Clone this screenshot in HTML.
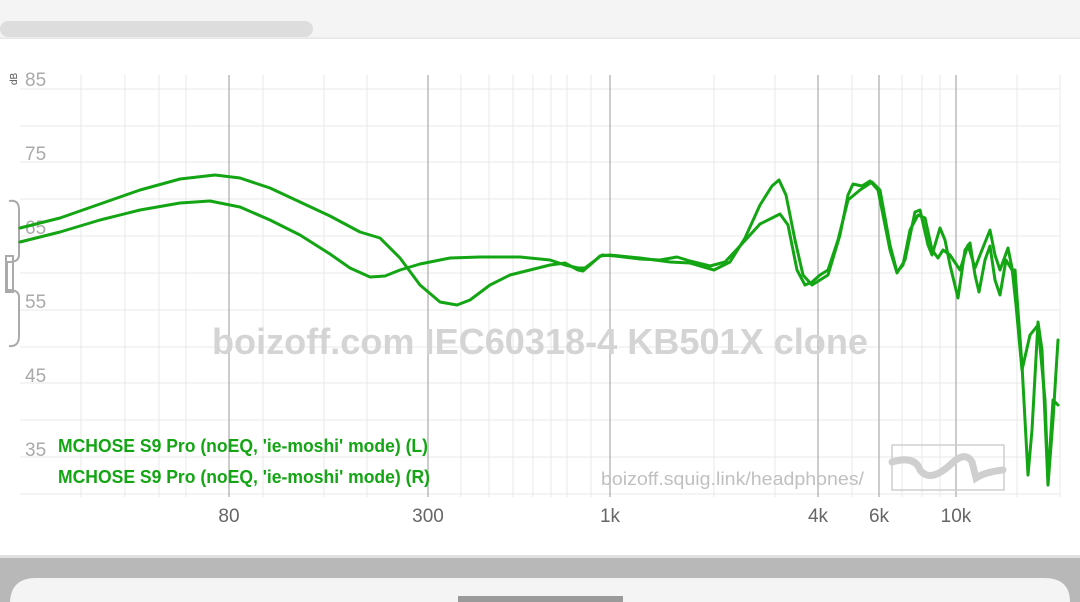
<!DOCTYPE html>
<html><head><meta charset="utf-8"><style>
html,body{margin:0;padding:0;width:1080px;height:602px;overflow:hidden;background:#fff;font-family:"Liberation Sans",sans-serif}
svg{display:block}
</style></head><body>
<svg width="1080" height="602" viewBox="0 0 1080 602" xmlns="http://www.w3.org/2000/svg">
<rect x="0" y="0" width="1080" height="38" fill="#f4f4f4"/>
<rect x="0" y="21" width="313" height="16" rx="8" fill="#dddddd"/>
<rect x="0" y="37.5" width="1080" height="1.5" fill="#e6e6e6"/>
<g stroke="#f0f0f0" stroke-width="1.5">
<line x1="20" y1="89" x2="1060" y2="89"/><line x1="20" y1="126" x2="1060" y2="126"/>
<line x1="20" y1="162" x2="1060" y2="162"/><line x1="20" y1="199" x2="1060" y2="199"/>
<line x1="20" y1="236" x2="1060" y2="236"/><line x1="20" y1="273" x2="1060" y2="273"/>
<line x1="20" y1="310" x2="1060" y2="310"/><line x1="20" y1="347" x2="1060" y2="347"/>
<line x1="20" y1="383" x2="1060" y2="383"/><line x1="20" y1="420" x2="1060" y2="420"/>
<line x1="20" y1="457" x2="1060" y2="457"/><line x1="20" y1="494" x2="1060" y2="494"/>
</g>
<g stroke="#e8e8e8" stroke-width="1">
<line x1="81" y1="75" x2="81" y2="497"/><line x1="125" y1="75" x2="125" y2="497"/>
<line x1="159" y1="75" x2="159" y2="497"/><line x1="186" y1="75" x2="186" y2="497"/>
<line x1="263" y1="75" x2="263" y2="497"/><line x1="324" y1="75" x2="324" y2="497"/>
<line x1="367" y1="75" x2="367" y2="497"/><line x1="461" y1="75" x2="461" y2="497"/>
<line x1="489" y1="75" x2="489" y2="497"/><line x1="513" y1="75" x2="513" y2="497"/>
<line x1="533" y1="75" x2="533" y2="497"/><line x1="551" y1="75" x2="551" y2="497"/>
<line x1="567" y1="75" x2="567" y2="497"/><line x1="591" y1="75" x2="591" y2="497"/>
<line x1="714" y1="75" x2="714" y2="497"/><line x1="775" y1="75" x2="775" y2="497"/>
<line x1="852" y1="75" x2="852" y2="497"/><line x1="902" y1="75" x2="902" y2="497"/>
<line x1="922" y1="75" x2="922" y2="497"/><line x1="940" y1="75" x2="940" y2="497"/>
<line x1="1017" y1="75" x2="1017" y2="497"/><line x1="1060" y1="75" x2="1060" y2="497"/>
</g>
<g stroke="#aaaaaa" stroke-width="1.2">
<line x1="229" y1="75" x2="229" y2="497"/><line x1="428" y1="75" x2="428" y2="497"/>
<line x1="610" y1="75" x2="610" y2="497"/><line x1="818" y1="75" x2="818" y2="497"/>
<line x1="879" y1="75" x2="879" y2="497"/><line x1="956" y1="75" x2="956" y2="497"/>
</g>
<g fill="#aaaaaa" font-size="19">
<text x="25" y="86">85</text><text x="25" y="160">75</text><text x="25" y="234">65</text>
<text x="25" y="308">55</text><text x="25" y="382">45</text><text x="25" y="456">35</text>
</g>
<text x="17" y="85" font-size="10" fill="#555" transform="rotate(-90 17 85)">dB</text>
<path d="M9,201 Q19,199 19,210 L19,255 Q19,262 9,262 L7,262 L7,290 L9,290 Q19,290 19,297 L19,336 Q19,347 9,346" fill="none" stroke="#aaa" stroke-width="2"/>
<rect x="6" y="256" width="7" height="36" fill="none" stroke="#aaa" stroke-width="2"/>
<text x="212" y="354" font-size="36" font-weight="bold" fill="#d4d4d4" textLength="656" lengthAdjust="spacingAndGlyphs">boizoff.com IEC60318-4 KB501X clone</text>
<g fill="#666" font-size="19" text-anchor="middle">
<text x="229" y="522">80</text><text x="428" y="522">300</text><text x="610" y="522">1k</text>
<text x="818" y="522">4k</text><text x="879" y="522">6k</text><text x="956" y="522">10k</text>
</g>
<text x="601" y="485" font-size="18" fill="#c0c0c0" textLength="263" lengthAdjust="spacingAndGlyphs">boizoff.squig.link/headphones/</text>
<rect x="892" y="445" width="112" height="45" fill="none" stroke="#cfcfcf" stroke-width="1.5"/>
<path d="M892,462 Q915,455 920,470 Q930,483 950,465 Q965,450 972,462 L976,478 Q985,472 1003,470" fill="none" stroke="#cfcfcf" stroke-width="7" stroke-linecap="round"/>
<g font-size="18" font-weight="bold" fill="#14a514">
<text x="58" y="452" textLength="370" lengthAdjust="spacingAndGlyphs">MCHOSE S9 Pro (noEQ, 'ie-moshi' mode) (L)</text>
<text x="58" y="483" textLength="372" lengthAdjust="spacingAndGlyphs">MCHOSE S9 Pro (noEQ, 'ie-moshi' mode) (R)</text>
</g>
<g fill="none" stroke="#14a514" stroke-width="3" stroke-linejoin="round" stroke-linecap="round">
<polyline points="20,228 60,218 100,204 140,190 180,179 215,175 240,178 270,188 300,202 330,216 360,232 380,238 400,258 420,285 440,302 457,305 470,300 490,285 510,275 530,270 550,265 565,263 578,270 583,271 590,265 600,256 610,255 640,258 670,262 690,263 714,270 730,262 745,238 760,205 772,186 779,180 786,195 795,240 803,275 812,285 820,280 828,275 840,235 848,195 853,184 862,186 870,181 878,190 890,250 897,273 905,260 915,212 920,210 928,245 932,255 940,228 945,240 950,265 958,298 965,250 970,243 975,275 979,292 985,260 990,246 995,280 1000,295 1006,260 1012,270 1015,270 1022,365 1028,475 1032,430 1038,322 1042,350 1048,485 1053,420 1058,340"/>
<polyline points="20,242 60,232 100,220 140,210 180,203 210,201 240,207 270,220 300,235 330,254 350,268 370,277 385,276 400,270 420,264 450,258 480,257 520,257 550,260 565,265 578,268 585,268 593,262 602,255 615,256 640,259 660,260 677,257 690,261 710,266 725,262 740,246 760,224 780,214 788,225 797,270 805,285 812,282 820,275 828,270 838,240 848,200 860,190 872,182 880,190 890,245 897,272 903,265 910,230 918,215 925,218 932,250 938,258 943,250 950,255 960,270 968,245 975,268 980,255 990,230 995,255 1000,270 1008,248 1012,268 1016,305 1022,370 1030,335 1038,325 1045,400 1048,480 1053,400 1058,405"/>
</g>
<rect x="0" y="557" width="1080" height="45" fill="#b8b8b8"/>
<rect x="0" y="555" width="1080" height="3" fill="#e0e0e0"/>
<path d="M10,602 L10,604 Q10,578 36,578 L1044,578 Q1070,578 1070,602 Z" fill="#f4f4f4"/>
<rect x="458" y="596" width="165" height="6" fill="#9a9a9a"/>
</svg>
</body></html>
